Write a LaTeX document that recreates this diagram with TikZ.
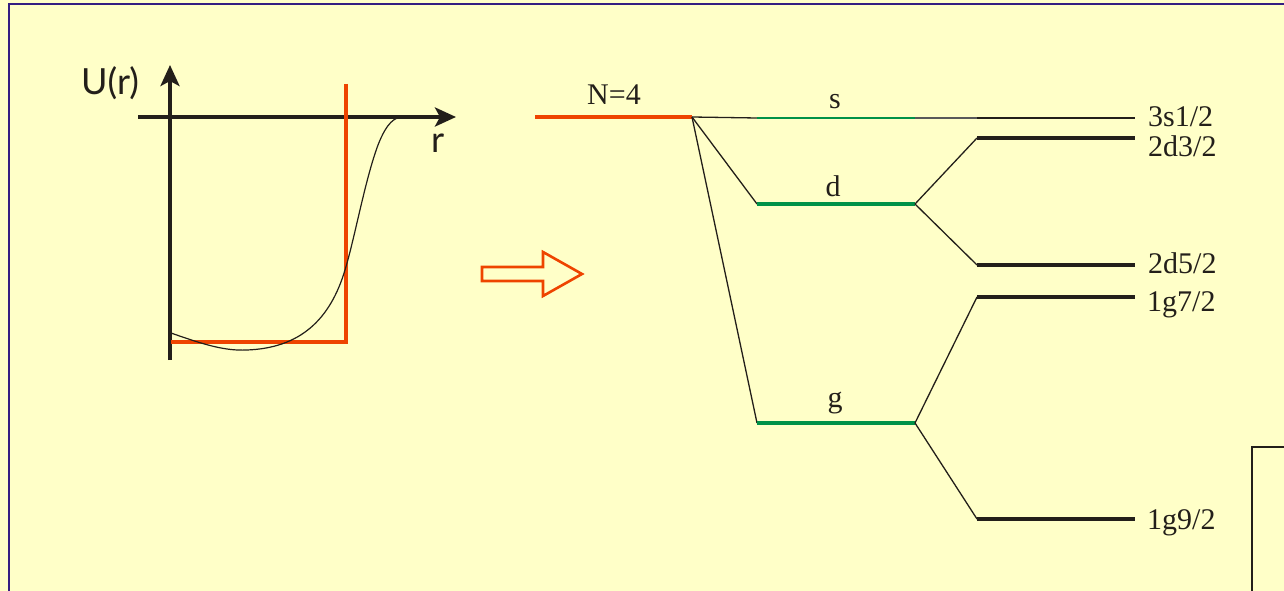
\documentclass[tikz,border=0pt]{standalone}
\usepackage{fontspec}
\setmainfont{Liberation Serif}
\newfontfamily\axisfont{Lato}
\usetikzlibrary{arrows.meta}
\definecolor{bgyellow}{RGB}{255,255,200}
\definecolor{framecol}{RGB}{52,30,130}
\definecolor{wellred}{RGB}{238,68,0}
\definecolor{levgreen}{RGB}{0,146,72}
\definecolor{ink}{RGB}{35,31,26}
\tikzset{
  axisline/.style={draw=ink,line width=4.2pt,-{Stealth[length=21pt,width=19pt,inset=5pt]}},
  wellline/.style={draw=wellred,line width=3.2pt},
  potline/.style={draw=ink,line width=1.2pt},
  hollowarrow/.style={draw=wellred,line width=2.6pt,line join=miter},
  connector/.style={draw=ink,line width=1.3pt},
  redlevel/.style={draw=wellred,line width=4.5pt},
  greenlevel/.style={draw=levgreen,line width=3.6pt},
  thingreen/.style={draw=levgreen,line width=2pt},
  blacklevel/.style={draw=ink,line width=4.2pt},
  thinblack/.style={draw=ink,line width=2pt},
  levlabel/.style={font=\fontsize{30}{30}\selectfont,text=ink,inner sep=0pt,anchor=base west},
  orblabel/.style={font=\fontsize{30}{30}\selectfont,text=ink,inner sep=0pt,anchor=base},
  axlabel/.style={font=\axisfont\fontsize{36}{36}\selectfont,text=ink,inner sep=0pt,anchor=base west},
}
\begin{document}
\begin{tikzpicture}[x=1pt,y=-1pt]
\fill[bgyellow] (0,0) rectangle (1284,591);
\useasboundingbox (0,0) rectangle (1284,591);
\clip (0,0) rectangle (1284,591);
% frame
\draw[framecol,line width=2pt] (9,600) -- (9,4) -- (1300,4);
% bottom-right box
\draw[ink,line width=1.3pt] (1300,447) -- (1252,447) -- (1252,600);

% ---- potential plot ----
\coordinate (vaxB) at (170,360);
\coordinate (vaxT) at (170,65);
\coordinate (haxL) at (138,117);
\coordinate (haxR) at (456,117);
\draw[axisline] (vaxB) -- (vaxT);
\draw[axisline] (haxL) -- (haxR);
\node[axlabel] (Ulab) at (81,95) {U(r)};
\node[axlabel] (rlab) at (431,153) {r};
\coordinate (wTop) at (346,84);
\coordinate (wCorner) at (346,342);
\coordinate (wLeft) at (171,342);
\draw[wellline] (wTop) -- (wCorner) -- (wLeft);
\draw[potline] (171,333) .. controls (205,345) and (225,351) .. (247,350)
  .. controls (300,348) and (330,320) .. (345,270)
  .. controls (355,237) and (365,180) .. (378,145)
  .. controls (387,122) and (395,117) .. (403,117);

% ---- hollow arrow ----
\draw[hollowarrow] (482,267) -- (543,267) -- (543,252) -- (582,274) -- (543,296) -- (543,281) -- (482,281) -- cycle;

% ---- level scheme ----
\coordinate (N4L) at (535,117);
\coordinate (N4R) at (692,117);
\coordinate (sL) at (757,118);
\coordinate (sR) at (915,118);
\coordinate (dL) at (757,204);
\coordinate (dR) at (915,204);
\coordinate (gL) at (757,423);
\coordinate (gR) at (915,423);
\coordinate (s12L) at (977,118);
\coordinate (s12R) at (1135,118);
\coordinate (d32L) at (977,138);
\coordinate (d32R) at (1135,138);
\coordinate (d52L) at (977,265);
\coordinate (d52R) at (1135,265);
\coordinate (g72L) at (977,297);
\coordinate (g72R) at (1135,297);
\coordinate (g92L) at (977,519);
\coordinate (g92R) at (1135,519);

\draw[redlevel] (N4L) -- (N4R);
\node[orblabel] (N4lab) at (614,105) {N=4};

\draw[connector] (N4R) -- (sL);
\draw[connector] (N4R) -- (dL);
\draw[connector] (N4R) -- (gL);
\draw[thingreen] (sL) -- (sR);
\draw[greenlevel] (dL) -- (dR);
\draw[greenlevel] (gL) -- (gR);
\node[orblabel] (slab) at (835,109) {s};
\node[orblabel] (dlab) at (833,196) {d};
\node[orblabel] (glab) at (835,407) {g};

\draw[gray!70!black,line width=1.5pt] (sR) -- (s12L);
\draw[connector] (dR) -- (d32L);
\draw[connector] (dR) -- (d52L);
\draw[connector] (gR) -- (g72L);
\draw[connector] (gR) -- (g92L);

\draw[thinblack] (s12L) -- (s12R);
\draw[blacklevel] (d32L) -- (d32R);
\draw[blacklevel] (d52L) -- (d52R);
\draw[blacklevel] (g72L) -- (g72R);
\draw[blacklevel] (g92L) -- (g92R);

\node[levlabel] (s12lab) at (1148,126) {3s1/2};
\node[levlabel] (d32lab) at (1148,157) {2d3/2};
\node[levlabel] (d52lab) at (1148,273) {2d5/2};
\node[levlabel] (g72lab) at (1147,311) {1g7/2};
\node[levlabel] (g92lab) at (1147,529) {1g9/2};
\end{tikzpicture}
\end{document}
